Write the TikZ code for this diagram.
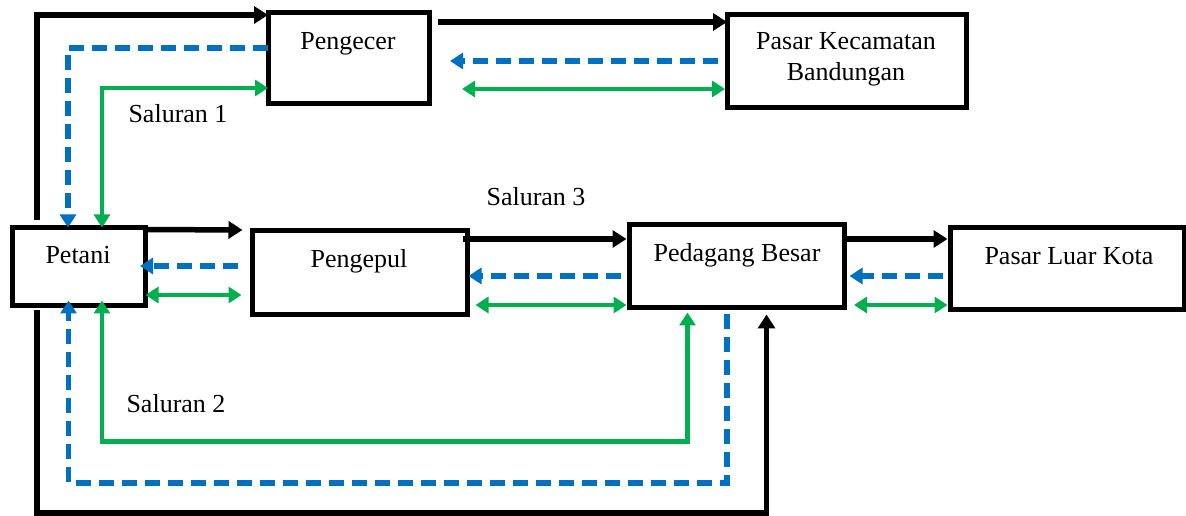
\documentclass[tikz,border=0pt]{standalone}
\usepackage{fontspec}
\setmainfont{Liberation Serif}
\usetikzlibrary{arrows.meta,calc}
\definecolor{blu}{RGB}{0,112,192}
\definecolor{grn}{RGB}{0,176,80}
\tikzset{
  boxnode/.style={draw,line width=5pt,outer sep=0pt,inner sep=0pt},
  lbl/.style={font=\fontsize{26}{31}\selectfont,anchor=base,inner sep=0pt},
  blk/.style={line width=5.5pt,-{Triangle[length=14pt,width=17pt]}},
  blue dash/.style={blu,line width=5.5pt,dash pattern=on 15pt off 8pt,-{Triangle[length=13pt,width=16pt]}},
  grn both/.style={grn,line width=4.5pt,{Triangle[length=13pt,width=16pt]}-{Triangle[length=13pt,width=16pt]}},
}
\begin{document}
\begin{tikzpicture}[x=1pt,y=1pt]
\useasboundingbox (0,0) rectangle (1186,516);
% boxes
\node[boxnode,minimum width=161pt,minimum height=91pt] (pengecer) at (348.5,457.5) {};
\node[boxnode,minimum width=239pt,minimum height=93pt] (pasark) at (846.5,455) {};
\node[boxnode,minimum width=133pt,minimum height=78pt] (petani) at (79,249.5) {};
\node[boxnode,minimum width=215pt,minimum height=84pt] (pengepul) at (360,243.5) {};
\node[boxnode,minimum width=215pt,minimum height=83pt] (pedagang) at (737,250) {};
\node[boxnode,minimum width=234pt,minimum height=82pt] (pasarl) at (1067.5,247.5) {};
% texts
\node[lbl] (tpengecer) at (348,466) {Pengecer};
\node[lbl] (tpasark1) at (846,466) {Pasar Kecamatan};
\node[lbl] (tpasark2) at (846,435) {Bandungan};
\node[lbl] (tpetani) at (78,252) {Petani};
\node[lbl] (tpengepul) at (359,248) {Pengepul};
\node[lbl] (tpedagang) at (737,254) {Pedagang Besar};
\node[lbl] (tpasarl) at (1069,251) {Pasar Luar Kota};
\node[lbl] (s1) at (178,393) {Saluran 1};
\node[lbl] (s2) at (176,103) {Saluran 2};
\node[lbl] (s3) at (536,310) {Saluran 3};
% Saluran 1
\draw[blk] ($(petani.north west)+(24.5,7)$) |- ($(pengecer.north west)+(0,-2)$);
\draw[blue dash] ($(pengecer.west)+(0,10.5)$) -| ($(petani.north west)+(55.5,0)$);
\draw[grn both] ($(petani.north west)+(89.5,0)$) |- ($(pengecer.west)+(0,-29.5)$);
\draw[blk] ($(pengecer.east)+(9,36.5)$) -- ($(pasark.west)+(0,39)$);
\draw[blue dash] ($(pasark.west)+(-9,0)$) -- ($(pengecer.east)+(21,-2.5)$);
\draw[grn both] ($(pengecer.east)+(33,-30.5)$) -- ($(pasark.west)+(-2,-28)$);
% middle row
\draw[blk] ($(petani.north east)+(0,-2)$) -- ($(pengepul.west)+(-10,42.5)$);
\draw[blue dash] ($(pengepul.west)+(-14.5,6.5)$) -- ($(petani.east)+(-5.5,0.5)$);
\draw[grn both] ($(petani.east)+(0,-28.5)$) -- ($(pengepul.west)+(-11,-22.5)$);
\draw[blk] ($(pengepul.east)+(-5,33.5)$) -- ($(pedagang.west)+(-3,27)$);
\draw[blue dash] ($(pedagang.west)+(-8.5,-10)$) -- ($(pengepul.east)+(1,-3.5)$);
\draw[grn both] ($(pengepul.east)+(8,-32.5)$) -- ($(pedagang.west)+(-3,-39)$);
\draw[blk] ($(pedagang.east)+(0,27)$) -- ($(pasarl.west)+(-3,29.5)$);
\draw[blue dash] ($(pasarl.west)+(-8,-7.5)$) -- ($(pedagang.east)+(5,-10)$);
\draw[grn both] ($(pedagang.east)+(9.5,-39)$) -- ($(pasarl.west)+(-3,-36.5)$);
% bottom loops
\draw[grn both] ($(petani.south west)+(89.5,5)$) -- ($(petani.south west)+(89.5,-136)$) -| ($(pedagang.south west)+(58,-5)$);
\draw[blue dash] ($(pedagang.south west)+(97.5,-7)$) -- ($(pedagang.south west)+(97.5,-175.5)$) -| ($(petani.south west)+(56,5)$);
\draw[blk] ($(petani.south west)+(24.5,-4.5)$) -- ($(petani.south west)+(24.5,-207.5)$) -| ($(pedagang.south west)+(137,-7)$);
\end{tikzpicture}
\end{document}
